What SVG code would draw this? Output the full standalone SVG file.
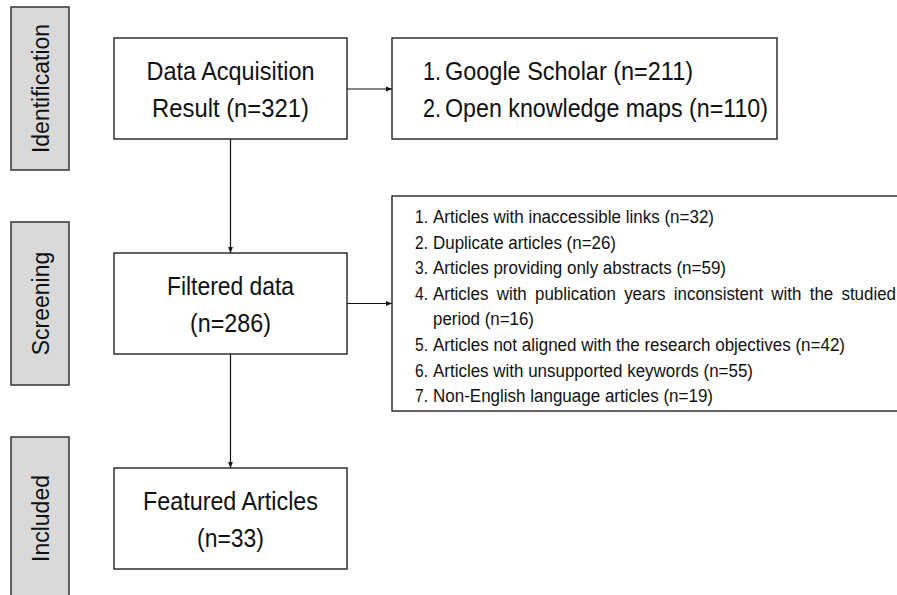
<svg xmlns="http://www.w3.org/2000/svg" width="897" height="595" viewBox="0 0 897 595">
<style>
.side{fill:#d9d9d9;stroke:#333;stroke-width:1.5}
.box{fill:#fff;stroke:#222;stroke-width:1.4}
.st{font-family:"Liberation Sans",Arial,sans-serif;font-size:23px;fill:#111}
.big{font-family:"Liberation Sans Narrow","Liberation Sans",Arial,sans-serif;font-size:26px;fill:#111}
.sm{font-family:"Liberation Sans Narrow","Liberation Sans",Arial,sans-serif;font-size:18px;fill:#111}
.con{stroke:#111;stroke-width:1.2;fill:none}
</style>
<defs>
<marker id="ah" viewBox="0 0 6 6" refX="6" refY="3" markerWidth="6" markerHeight="6" markerUnits="userSpaceOnUse" orient="auto">
<path d="M0,0.6 L6,3 L0,5.4 z" fill="#111"/>
</marker>
</defs>
<rect width="897" height="595" fill="#fff"/>

<g id="stage-identification">
<rect class="side" x="11" y="7" width="58" height="163"/>
<text class="st" transform="translate(48.5,88.5) rotate(-90)" text-anchor="middle">Identification</text>
</g>
<g id="stage-screening">
<rect class="side" x="11" y="222" width="58" height="163"/>
<text class="st" transform="translate(48.5,303.5) rotate(-90)" text-anchor="middle">Screening</text>
</g>
<g id="stage-included">
<rect class="side" x="11" y="437" width="58" height="163"/>
<text class="st" transform="translate(48.5,518.5) rotate(-90)" text-anchor="middle">Included</text>
</g>

<g id="connectors">
<line class="con" x1="347" y1="89" x2="392" y2="89" marker-end="url(#ah)"/>
<line class="con" x1="230.5" y1="139" x2="230.5" y2="253" marker-end="url(#ah)"/>
<line class="con" x1="347" y1="303.5" x2="392" y2="303.5" marker-end="url(#ah)"/>
<line class="con" x1="230.5" y1="354" x2="230.5" y2="468" marker-end="url(#ah)"/>
</g>

<g id="node-acquisition">
<rect class="box" x="114" y="38" width="233" height="101"/>
<text class="big" x="230.5" y="80" text-anchor="middle" textLength="168" lengthAdjust="spacingAndGlyphs">Data Acquisition</text>
<text class="big" x="230.5" y="117" text-anchor="middle" textLength="157" lengthAdjust="spacingAndGlyphs">Result (n=321)</text>
</g>

<g id="node-sources">
<rect class="box" x="392" y="38" width="385" height="101"/>
<text class="big" x="423" y="80" textLength="18" lengthAdjust="spacingAndGlyphs">1.</text>
<text class="big" x="445" y="80" textLength="248" lengthAdjust="spacingAndGlyphs">Google Scholar (n=211)</text>
<text class="big" x="423" y="117" textLength="18" lengthAdjust="spacingAndGlyphs">2.</text>
<text class="big" x="445" y="117" textLength="323" lengthAdjust="spacingAndGlyphs">Open knowledge maps (n=110)</text>
</g>

<g id="node-filtered">
<rect class="box" x="114" y="253" width="233" height="101"/>
<text class="big" x="230.5" y="295" text-anchor="middle" textLength="127" lengthAdjust="spacingAndGlyphs">Filtered data</text>
<text class="big" x="230.5" y="332" text-anchor="middle" textLength="81" lengthAdjust="spacingAndGlyphs">(n=286)</text>
</g>

<g id="node-excluded">
<rect class="box" x="392" y="196" width="520" height="215"/>
<text class="sm" x="415" y="223" textLength="13" lengthAdjust="spacingAndGlyphs">1.</text>
<text class="sm" x="433" y="223" textLength="281" lengthAdjust="spacingAndGlyphs">Articles with inaccessible links (n=32)</text>
<text class="sm" x="415" y="248.6" textLength="13" lengthAdjust="spacingAndGlyphs">2.</text>
<text class="sm" x="433" y="248.6" textLength="183" lengthAdjust="spacingAndGlyphs">Duplicate articles (n=26)</text>
<text class="sm" x="415" y="274.2" textLength="13" lengthAdjust="spacingAndGlyphs">3.</text>
<text class="sm" x="433" y="274.2" textLength="293" lengthAdjust="spacingAndGlyphs">Articles providing only abstracts (n=59)</text>
<text class="sm" x="415" y="299.8" textLength="13" lengthAdjust="spacingAndGlyphs">4.</text>
<text class="sm" x="433" y="299.8" word-spacing="3.8" textLength="463" lengthAdjust="spacingAndGlyphs">Articles with publication years inconsistent with the studied</text>
<text class="sm" x="433" y="325.4" textLength="101" lengthAdjust="spacingAndGlyphs">period (n=16)</text>
<text class="sm" x="415" y="351" textLength="13" lengthAdjust="spacingAndGlyphs">5.</text>
<text class="sm" x="433" y="351" textLength="412" lengthAdjust="spacingAndGlyphs">Articles not aligned with the research objectives (n=42)</text>
<text class="sm" x="415" y="376.6" textLength="13" lengthAdjust="spacingAndGlyphs">6.</text>
<text class="sm" x="433" y="376.6" textLength="320" lengthAdjust="spacingAndGlyphs">Articles with unsupported keywords (n=55)</text>
<text class="sm" x="415" y="402.2" textLength="13" lengthAdjust="spacingAndGlyphs">7.</text>
<text class="sm" x="433" y="402.2" textLength="280" lengthAdjust="spacingAndGlyphs">Non-English language articles (n=19)</text>
</g>

<g id="node-featured">
<rect class="box" x="114" y="468" width="233" height="101"/>
<text class="big" x="230.5" y="510" text-anchor="middle" textLength="175" lengthAdjust="spacingAndGlyphs">Featured Articles</text>
<text class="big" x="230.5" y="547" text-anchor="middle" textLength="67" lengthAdjust="spacingAndGlyphs">(n=33)</text>
</g>
</svg>
